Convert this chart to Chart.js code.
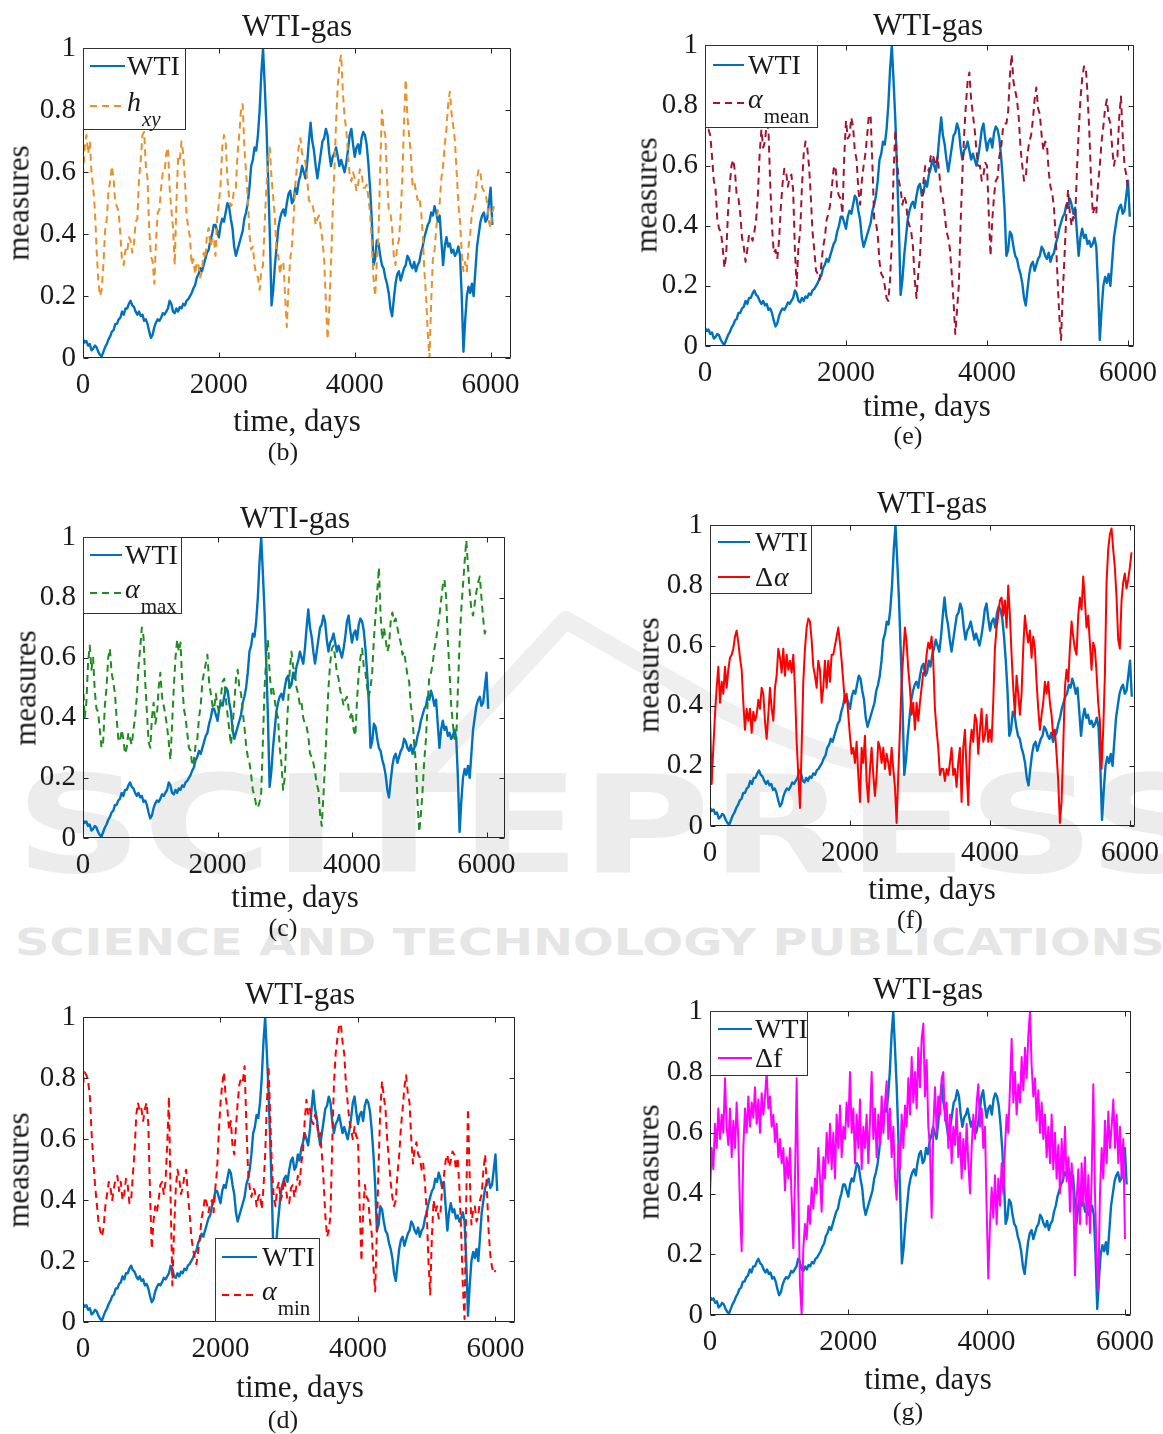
<!DOCTYPE html>
<html>
<head>
<meta charset="utf-8">
<title>WTI-gas measures</title>
<script src="https://cdn.jsdelivr.net/npm/chart.js@4.4.1/dist/chart.umd.min.js"></script>
<style>
  html, body { margin: 0; padding: 0; background: #fff; }
  #page { position: relative; width: 1163px; height: 1434px; overflow: hidden; background: #fff;
          font-family: "Liberation Serif", "Times New Roman", serif; color: #1a1a1a; }
  #page canvas { position: absolute; z-index: 2; }
  .lbl { position: absolute; transform: translate(-50%, -50%); white-space: nowrap; line-height: 1; z-index: 3; }
  .title, .axis { font-size: 31px; }
  .cap { font-size: 26px; }
  .rot { transform: translate(-50%, -50%) rotate(-90deg); }
  svg.wm { position: absolute; left: 0; top: 0; z-index: 1; }
</style>
</head>
<body>
<div id="page">
  <svg class="wm" width="1163" height="1434">
    <g fill="none" stroke="#efefef" stroke-width="18" stroke-linejoin="round" stroke-linecap="round">
      <path d="M 400 800 L 566 620 L 705 700 Q 790 745 860 762"/>
    </g>
    <g font-family="DejaVu Sans" font-weight="bold">
      <text x="15" y="872" font-size="136" fill="#ececec" textLength="1200" lengthAdjust="spacingAndGlyphs">SCITEPRESS</text>
      <text x="15" y="955" font-size="38" fill="#e6e6e6" textLength="1150" lengthAdjust="spacingAndGlyphs">SCIENCE AND TECHNOLOGY PUBLICATIONS</text>
    </g>
  </svg>
</div>
<script>
// ---- axis ticks ----
const xTicks = [0, 2000, 4000, 6000];
const yTicks = [0, 0.2, 0.4, 0.6, 0.8, 1];

// ---- WTI normalised price (one sample every 25 days) ----
const wtiStep = 25;
const wti = [
  0.06, 0.05, 0.055, 0.04, 0.045, 0.025, 0.03, 0.04, 0.035, 0.02,
  0.01, 0.005, 0.02, 0.035, 0.045, 0.06, 0.07, 0.085, 0.09, 0.11,
  0.11, 0.125, 0.13, 0.15, 0.14, 0.16, 0.16, 0.175, 0.185, 0.17,
  0.165, 0.15, 0.14, 0.15, 0.135, 0.14, 0.12, 0.125, 0.11, 0.085,
  0.065, 0.075, 0.10, 0.115, 0.125, 0.12, 0.13, 0.145, 0.14, 0.15,
  0.16, 0.185, 0.175, 0.15, 0.145, 0.16, 0.15, 0.165, 0.16, 0.175,
  0.17, 0.185, 0.19, 0.20, 0.21, 0.225, 0.235, 0.26, 0.27, 0.29,
  0.28, 0.30, 0.32, 0.34, 0.35, 0.38, 0.40, 0.43, 0.43, 0.41,
  0.39, 0.43, 0.45, 0.44, 0.47, 0.50, 0.49, 0.45, 0.42, 0.36,
  0.33, 0.35, 0.37, 0.39, 0.41, 0.45, 0.47, 0.50, 0.55, 0.62,
  0.64, 0.68, 0.67, 0.72, 0.80, 0.92, 1.0, 0.88, 0.75, 0.58,
  0.40, 0.17, 0.22, 0.30, 0.36, 0.42, 0.45, 0.47, 0.48, 0.46,
  0.50, 0.53, 0.54, 0.50, 0.51, 0.55, 0.53, 0.57, 0.59, 0.62,
  0.60, 0.58, 0.63, 0.70, 0.76, 0.70, 0.67, 0.62, 0.58, 0.62,
  0.66, 0.70, 0.71, 0.74, 0.72, 0.66, 0.62, 0.65, 0.66, 0.68,
  0.65, 0.62, 0.64, 0.62, 0.60, 0.63, 0.67, 0.72, 0.74, 0.69,
  0.65, 0.68, 0.69, 0.66, 0.71, 0.73, 0.72, 0.69, 0.63, 0.55,
  0.45, 0.30, 0.32, 0.38, 0.37, 0.33, 0.30, 0.29, 0.26, 0.24,
  0.21, 0.16, 0.135, 0.19, 0.24, 0.27, 0.28, 0.25, 0.27, 0.29,
  0.30, 0.33, 0.32, 0.30, 0.29, 0.31, 0.28, 0.30, 0.31, 0.34,
  0.36, 0.39, 0.41, 0.43, 0.44, 0.47, 0.46, 0.49, 0.47, 0.44,
  0.46, 0.38, 0.30, 0.36, 0.39, 0.36, 0.37, 0.34, 0.35, 0.33,
  0.34, 0.36, 0.33, 0.20, 0.02, 0.12, 0.20, 0.23, 0.21, 0.24,
  0.20, 0.28, 0.36, 0.40, 0.44, 0.46, 0.47, 0.44, 0.45, 0.50,
  0.55, 0.43
];

// ---- h_xy (every 25 days) ----
const hxyStep = 25;
const hxy = [
  0.59, 0.68, 0.72, 0.66, 0.70, 0.60, 0.55, 0.48, 0.35, 0.25,
  0.20, 0.22, 0.30, 0.41, 0.45, 0.54, 0.57, 0.62, 0.58, 0.50,
  0.49, 0.47, 0.40, 0.31, 0.30, 0.35, 0.34, 0.39, 0.38, 0.34,
  0.37, 0.44, 0.45, 0.58, 0.64, 0.72, 0.73, 0.62, 0.58, 0.41,
  0.33, 0.31, 0.24, 0.38, 0.47, 0.48, 0.55, 0.60, 0.60, 0.66,
  0.68, 0.55, 0.48, 0.42, 0.30, 0.50, 0.65, 0.64, 0.70, 0.66,
  0.58, 0.46, 0.42, 0.39, 0.30, 0.32, 0.27, 0.31, 0.30, 0.26,
  0.28, 0.34, 0.32, 0.40, 0.42, 0.36, 0.38, 0.39, 0.33, 0.45,
  0.50, 0.56, 0.68, 0.72, 0.70, 0.58, 0.52, 0.49, 0.50, 0.55,
  0.55, 0.66, 0.72, 0.80, 0.82, 0.68, 0.60, 0.52, 0.40, 0.35,
  0.36, 0.30, 0.27, 0.26, 0.22, 0.28, 0.30, 0.44, 0.55, 0.64,
  0.68, 0.58, 0.52, 0.45, 0.34, 0.33, 0.27, 0.31, 0.31, 0.20,
  0.10, 0.23, 0.32, 0.36, 0.45, 0.56, 0.62, 0.68, 0.71, 0.66,
  0.65, 0.63, 0.58, 0.51, 0.50, 0.50, 0.47, 0.43, 0.45, 0.46,
  0.42, 0.38, 0.32, 0.18, 0.06, 0.16, 0.30, 0.47, 0.60, 0.76,
  0.88, 0.95, 0.98, 0.86, 0.78, 0.74, 0.66, 0.59, 0.57, 0.60,
  0.58, 0.54, 0.56, 0.61, 0.60, 0.55, 0.55, 0.56, 0.52, 0.47,
  0.38, 0.26, 0.20, 0.31, 0.40, 0.62, 0.80, 0.74, 0.72, 0.58,
  0.48, 0.47, 0.42, 0.33, 0.30, 0.36, 0.38, 0.46, 0.58, 0.76,
  0.90, 0.78, 0.72, 0.66, 0.56, 0.57, 0.54, 0.51, 0.52, 0.48,
  0.40, 0.28, 0.20, 0.08, 0.00, 0.18, 0.32, 0.35, 0.42, 0.48,
  0.50, 0.58, 0.62, 0.69, 0.74, 0.82, 0.86, 0.79, 0.75, 0.70,
  0.60, 0.50, 0.44, 0.34, 0.28, 0.31, 0.28, 0.36, 0.40, 0.47,
  0.50, 0.52, 0.58, 0.61, 0.60, 0.55, 0.54, 0.53, 0.50, 0.44,
  0.42, 0.47, 0.49
];

// ---- alpha_mean (every 25 days) ----
const alphaMeanStep = 25;
const alphaMean = [
  0.795, 0.72, 0.72, 0.70, 0.63, 0.55, 0.52, 0.42, 0.39, 0.38,
  0.33, 0.26, 0.30, 0.44, 0.53, 0.60, 0.62, 0.58, 0.50, 0.49,
  0.44, 0.36, 0.33, 0.28, 0.32, 0.37, 0.37, 0.35, 0.38, 0.42,
  0.50, 0.64, 0.72, 0.66, 0.68, 0.74, 0.72, 0.54, 0.40, 0.31,
  0.32, 0.29, 0.35, 0.46, 0.54, 0.59, 0.58, 0.53, 0.56, 0.57,
  0.52, 0.32, 0.20, 0.33, 0.38, 0.53, 0.64, 0.68, 0.66, 0.60,
  0.50, 0.38, 0.32, 0.25, 0.24, 0.22, 0.27, 0.33, 0.36, 0.42,
  0.44, 0.47, 0.53, 0.59, 0.60, 0.52, 0.50, 0.49, 0.44, 0.63,
  0.75, 0.69, 0.70, 0.76, 0.73, 0.65, 0.62, 0.52, 0.47, 0.55,
  0.60, 0.64, 0.70, 0.77, 0.76, 0.60, 0.42, 0.41, 0.37, 0.28,
  0.24, 0.23, 0.20, 0.16, 0.15, 0.22, 0.35, 0.58, 0.72, 0.61,
  0.55, 0.52, 0.47, 0.50, 0.48, 0.42, 0.40, 0.38, 0.33, 0.22,
  0.16, 0.24, 0.30, 0.44, 0.55, 0.60, 0.60, 0.58, 0.63, 0.64,
  0.62, 0.60, 0.63, 0.57, 0.50, 0.49, 0.44, 0.38, 0.36, 0.32,
  0.24, 0.15, 0.04, 0.12, 0.20, 0.40, 0.57, 0.70, 0.80, 0.88,
  0.91, 0.82, 0.77, 0.72, 0.65, 0.60, 0.60, 0.55, 0.57, 0.61,
  0.60, 0.44, 0.30, 0.42, 0.50, 0.55, 0.56, 0.63, 0.66, 0.72,
  0.74, 0.74, 0.78, 0.90, 0.97, 0.88, 0.85, 0.82, 0.76, 0.66,
  0.60, 0.55, 0.56, 0.64, 0.68, 0.70, 0.75, 0.82, 0.86, 0.79,
  0.77, 0.70, 0.65, 0.68, 0.67, 0.58, 0.53, 0.51, 0.46, 0.36,
  0.23, 0.10, 0.02, 0.18, 0.30, 0.44, 0.52, 0.44, 0.40, 0.43,
  0.42, 0.58, 0.71, 0.82, 0.89, 0.93, 0.93, 0.84, 0.72, 0.56,
  0.44, 0.46, 0.44, 0.54, 0.60, 0.68, 0.73, 0.79, 0.82, 0.76,
  0.74, 0.66, 0.60, 0.63, 0.63, 0.76, 0.83, 0.70, 0.60, 0.57,
  0.52
];

// ---- alpha_max (every 25 days) ----
const alphaMaxStep = 25;
const alphaMax = [
  0.52, 0.40, 0.45, 0.58, 0.64, 0.56, 0.60, 0.49, 0.43, 0.42,
  0.36, 0.30, 0.32, 0.44, 0.50, 0.60, 0.63, 0.55, 0.52, 0.48,
  0.40, 0.33, 0.32, 0.36, 0.33, 0.28, 0.30, 0.35, 0.33, 0.31,
  0.36, 0.40, 0.47, 0.57, 0.63, 0.70, 0.67, 0.52, 0.42, 0.32,
  0.30, 0.40, 0.45, 0.38, 0.41, 0.50, 0.55, 0.47, 0.44, 0.41,
  0.37, 0.32, 0.26, 0.38, 0.50, 0.60, 0.66, 0.62, 0.65, 0.52,
  0.43, 0.40, 0.35, 0.30, 0.29, 0.24, 0.26, 0.31, 0.33, 0.40,
  0.44, 0.52, 0.55, 0.58, 0.61, 0.52, 0.48, 0.44, 0.43, 0.48,
  0.44, 0.42, 0.47, 0.52, 0.53, 0.46, 0.41, 0.36, 0.31, 0.37,
  0.45, 0.53, 0.56, 0.50, 0.48, 0.42, 0.37, 0.31, 0.27, 0.25,
  0.21, 0.16, 0.14, 0.11, 0.10, 0.12, 0.15, 0.32, 0.50, 0.60,
  0.66, 0.55, 0.48, 0.50, 0.46, 0.42, 0.40, 0.30, 0.25, 0.16,
  0.20, 0.34, 0.45, 0.56, 0.62, 0.57, 0.55, 0.50, 0.48, 0.44,
  0.45, 0.40, 0.38, 0.37, 0.34, 0.28, 0.27, 0.25, 0.22, 0.18,
  0.16, 0.08, 0.04, 0.14, 0.25, 0.38, 0.50, 0.58, 0.63, 0.64,
  0.60, 0.55, 0.53, 0.49, 0.47, 0.44, 0.46, 0.47, 0.43, 0.40,
  0.42, 0.36, 0.34, 0.46, 0.55, 0.60, 0.63, 0.57, 0.55, 0.50,
  0.47, 0.50, 0.55, 0.66, 0.74, 0.82, 0.90, 0.74, 0.66, 0.70,
  0.66, 0.62, 0.64, 0.72, 0.75, 0.72, 0.73, 0.70, 0.67, 0.65,
  0.61, 0.62, 0.58, 0.54, 0.52, 0.44, 0.40, 0.31, 0.25, 0.12,
  0.02, 0.08, 0.16, 0.26, 0.33, 0.45, 0.54, 0.55, 0.58, 0.63,
  0.66, 0.70, 0.74, 0.79, 0.84, 0.86, 0.80, 0.66, 0.55, 0.44,
  0.38, 0.33, 0.33, 0.50, 0.65, 0.76, 0.84, 0.92, 0.99, 0.90,
  0.82, 0.76, 0.74, 0.78, 0.82, 0.85, 0.87, 0.80, 0.73, 0.68,
  0.70
];

// ---- alpha_min (every 25 days) ----
const alphaMinStep = 25;
const alphaMin = [
  0.78, 0.82, 0.81, 0.79, 0.74, 0.62, 0.53, 0.45, 0.39, 0.33,
  0.30, 0.28, 0.31, 0.38, 0.42, 0.46, 0.44, 0.40, 0.44, 0.47,
  0.48, 0.43, 0.46, 0.40, 0.42, 0.47, 0.45, 0.39, 0.40, 0.48,
  0.56, 0.68, 0.72, 0.69, 0.70, 0.66, 0.70, 0.72, 0.65, 0.42,
  0.24, 0.33, 0.38, 0.36, 0.40, 0.45, 0.46, 0.42, 0.46, 0.58,
  0.74, 0.40, 0.12, 0.30, 0.44, 0.50, 0.47, 0.42, 0.44, 0.48,
  0.50, 0.42, 0.36, 0.28, 0.24, 0.21, 0.19, 0.23, 0.28, 0.34,
  0.37, 0.41, 0.39, 0.36, 0.39, 0.40, 0.36, 0.44, 0.50, 0.62,
  0.72, 0.78, 0.82, 0.74, 0.70, 0.63, 0.66, 0.58, 0.55, 0.64,
  0.72, 0.78, 0.80, 0.79, 0.84, 0.66, 0.50, 0.44, 0.41, 0.44,
  0.43, 0.38, 0.41, 0.42, 0.37, 0.44, 0.55, 0.72, 0.84, 0.66,
  0.50, 0.41, 0.38, 0.44, 0.46, 0.40, 0.42, 0.47, 0.44, 0.40,
  0.39, 0.44, 0.45, 0.41, 0.44, 0.48, 0.45, 0.52, 0.56, 0.66,
  0.73, 0.68, 0.70, 0.66, 0.65, 0.68, 0.66, 0.61, 0.62, 0.55,
  0.46, 0.35, 0.28, 0.30, 0.35, 0.58, 0.78, 0.88, 0.93, 0.97,
  0.98, 0.92, 0.88, 0.78, 0.72, 0.66, 0.63, 0.60, 0.64, 0.61,
  0.60, 0.38, 0.20, 0.36, 0.45, 0.41, 0.40, 0.33, 0.29, 0.18,
  0.10, 0.30, 0.52, 0.70, 0.79, 0.74, 0.70, 0.60, 0.53, 0.46,
  0.41, 0.38, 0.40, 0.49, 0.55, 0.64, 0.70, 0.77, 0.81, 0.75,
  0.72, 0.60, 0.52, 0.57, 0.59, 0.55, 0.54, 0.50, 0.52, 0.45,
  0.36, 0.20, 0.09, 0.28, 0.40, 0.36, 0.38, 0.34, 0.36, 0.44,
  0.48, 0.53, 0.55, 0.51, 0.53, 0.56, 0.55, 0.50, 0.54, 0.44,
  0.30, 0.12, 0.01, 0.40, 0.70, 0.48, 0.32, 0.37, 0.38, 0.33,
  0.35, 0.40, 0.42, 0.50, 0.55, 0.44, 0.30, 0.22, 0.18, 0.16,
  0.17
];

// ---- delta alpha (about every 24 days) ----
const deltaAlphaStep = 23.8;
const deltaAlpha = [
  0.37, 0.14, 0.26, 0.37, 0.46, 0.53, 0.41, 0.48, 0.44, 0.53,
  0.46, 0.52, 0.56, 0.57, 0.59, 0.63, 0.65, 0.61, 0.56, 0.52,
  0.41, 0.32, 0.39, 0.35, 0.39, 0.31, 0.38, 0.35, 0.37, 0.42,
  0.39, 0.46, 0.44, 0.35, 0.29, 0.37, 0.46, 0.39, 0.35, 0.46,
  0.50, 0.59, 0.56, 0.51, 0.59, 0.50, 0.57, 0.52, 0.55, 0.51,
  0.57, 0.46, 0.28, 0.17, 0.06, 0.26, 0.48, 0.59, 0.66, 0.69,
  0.68, 0.62, 0.53, 0.50, 0.46, 0.55, 0.52, 0.41, 0.46, 0.55,
  0.46, 0.55, 0.48, 0.57, 0.57, 0.60, 0.63, 0.66, 0.61, 0.55,
  0.48, 0.41, 0.44, 0.37, 0.30, 0.24, 0.26, 0.21, 0.28, 0.17,
  0.08, 0.26, 0.21, 0.30, 0.15, 0.08, 0.19, 0.26, 0.17, 0.10,
  0.17, 0.28, 0.26, 0.21, 0.26, 0.19, 0.24, 0.21, 0.17, 0.26,
  0.19, 0.13, 0.01, 0.17, 0.32, 0.48, 0.57, 0.66, 0.61, 0.52,
  0.46, 0.37, 0.41, 0.32, 0.41, 0.35, 0.41, 0.46, 0.51, 0.51,
  0.57, 0.61, 0.59, 0.63, 0.55, 0.39, 0.32, 0.26, 0.17, 0.19,
  0.19, 0.15, 0.19, 0.17, 0.21, 0.26, 0.17, 0.19, 0.13, 0.21,
  0.26, 0.08, 0.26, 0.32, 0.19, 0.07, 0.26, 0.32, 0.28, 0.37,
  0.35, 0.24, 0.32, 0.39, 0.28, 0.30, 0.37, 0.28, 0.32, 0.28,
  0.41, 0.59, 0.66, 0.70, 0.75, 0.76, 0.70, 0.75, 0.66, 0.80,
  0.70, 0.57, 0.46, 0.37, 0.50, 0.44, 0.37, 0.44, 0.59, 0.70,
  0.65, 0.61, 0.65, 0.56, 0.63, 0.59, 0.48, 0.39, 0.32, 0.37,
  0.41, 0.48, 0.44, 0.48, 0.41, 0.37, 0.30, 0.32, 0.24, 0.15,
  0.01, 0.08, 0.26, 0.46, 0.52, 0.48, 0.59, 0.68, 0.63, 0.59,
  0.57, 0.70, 0.76, 0.72, 0.83, 0.75, 0.66, 0.70, 0.61, 0.52,
  0.61, 0.59, 0.51, 0.41, 0.35, 0.19, 0.32, 0.50, 0.81, 0.92,
  0.97, 0.99, 0.92, 0.86, 0.76, 0.62, 0.59, 0.75, 0.81, 0.84,
  0.79, 0.82, 0.86, 0.91
];

// ---- delta f (about every 24 days) ----
const deltaFStep = 24.1;
const deltaF = [
  0.40, 0.55, 0.48, 0.63, 0.55, 0.68, 0.58, 0.66, 0.60, 0.78,
  0.62, 0.56, 0.68, 0.52, 0.64, 0.55, 0.70, 0.58, 0.35, 0.21,
  0.55, 0.68, 0.60, 0.72, 0.62, 0.70, 0.65, 0.75, 0.63, 0.71,
  0.60, 0.73, 0.66, 0.72, 0.80, 0.68, 0.72, 0.62, 0.66, 0.57,
  0.63, 0.52, 0.58, 0.50, 0.55, 0.41, 0.52, 0.45, 0.55, 0.38,
  0.22, 0.45, 0.78, 0.40, 0.10, 0.00, 0.22, 0.30, 0.25, 0.36,
  0.30, 0.42, 0.35, 0.45, 0.40, 0.55, 0.45, 0.34, 0.52, 0.45,
  0.60, 0.50, 0.63, 0.48, 0.60, 0.45, 0.66, 0.55, 0.69, 0.52,
  0.62, 0.58, 0.70, 0.62, 0.80, 0.60, 0.68, 0.50, 0.66, 0.55,
  0.71, 0.48, 0.62, 0.55, 0.66, 0.50, 0.64, 0.80, 0.58, 0.68,
  0.52, 0.66, 0.56, 0.72, 0.60, 0.70, 0.77, 0.58, 0.68, 0.52,
  0.62, 0.45, 0.38, 0.56, 0.48, 0.66, 0.55, 0.69, 0.62, 0.78,
  0.66, 0.85, 0.70, 0.80, 0.68, 0.88, 0.75, 0.91, 0.96, 0.72,
  0.84, 0.62, 0.55, 0.32, 0.62, 0.75, 0.60, 0.72, 0.66, 0.78,
  0.80, 0.64, 0.70, 0.55, 0.66, 0.50, 0.62, 0.56, 0.68, 0.52,
  0.60, 0.45, 0.58, 0.48, 0.63, 0.50, 0.40, 0.55, 0.66, 0.58,
  0.70, 0.76, 0.62, 0.68, 0.55, 0.62, 0.35, 0.12, 0.30, 0.42,
  0.32, 0.46, 0.30, 0.45, 0.36, 0.50, 0.40, 0.55, 0.66, 0.60,
  0.75, 0.91, 0.70, 0.80, 0.66, 0.76, 0.70, 0.85, 0.74, 0.88,
  0.78, 0.92, 1.00, 0.82, 0.72, 0.78, 0.64, 0.74, 0.60, 0.70,
  0.58, 0.66, 0.52, 0.62, 0.50, 0.66, 0.48, 0.60, 0.45, 0.56,
  0.40, 0.58, 0.45, 0.62, 0.44, 0.52, 0.34, 0.50, 0.40, 0.13,
  0.38, 0.48, 0.30, 0.50, 0.36, 0.52, 0.30, 0.46, 0.27, 0.45,
  0.76, 0.40, 0.20, 0.08, 0.40, 0.55, 0.45, 0.64, 0.50, 0.67,
  0.55, 0.62, 0.71, 0.55, 0.66, 0.50, 0.62, 0.45, 0.58, 0.25
];

// ---- drawing ----
const FONT = '"Liberation Serif", "Times New Roman", serif';
const INK = '#262626';
const WTI_COLOR = '#0072BD';
const Y_AXIS_W = 80, TOP_PAD = 24, RIGHT_PAD = 40, X_AXIS_H = 52;

function toPoints(values, step) {
  return values.map((v, i) => ({ x: i * step, y: v }));
}

// Axes box with inward tick marks on all four sides
const frameBox = {
  id: 'frameBox',
  afterDatasetsDraw(chart) {
    const { ctx, chartArea: a, scales } = chart;
    ctx.save();
    ctx.strokeStyle = INK;
    ctx.lineWidth = 1;
    ctx.setLineDash([]);
    const L = Math.round(a.left) + 0.5, R = Math.round(a.right) - 0.5;
    const T = Math.round(a.top) + 0.5, B = Math.round(a.bottom) - 0.5;
    ctx.beginPath();
    ctx.rect(L, T, R - L, B - T);
    const tl = 5;
    scales.x.ticks.forEach(t => {
      const px = Math.round(scales.x.getPixelForValue(t.value)) + 0.5;
      ctx.moveTo(px, B); ctx.lineTo(px, B - tl);
      ctx.moveTo(px, T); ctx.lineTo(px, T + tl);
    });
    scales.y.ticks.forEach(t => {
      const py = Math.round(scales.y.getPixelForValue(t.value)) + 0.5;
      ctx.moveTo(L, py); ctx.lineTo(L + tl, py);
      ctx.moveTo(R, py); ctx.lineTo(R - tl, py);
    });
    ctx.stroke();
    ctx.restore();
  }
};

// Boxed legend with line samples and sub-scripted labels
const boxLegend = {
  id: 'boxLegend',
  afterDraw(chart, args, opts) {
    const { ctx, chartArea: a } = chart;
    const x0 = Math.round(a.left + opts.x), y0 = Math.round(a.top + opts.y);
    ctx.save();
    ctx.fillStyle = '#ffffff';
    ctx.fillRect(x0, y0, opts.w, opts.h);
    ctx.strokeStyle = '#333333';
    ctx.lineWidth = 1;
    ctx.setLineDash([]);
    ctx.strokeRect(x0 + 0.5, y0 + 0.5, opts.w - 1, opts.h - 1);
    chart.data.datasets.forEach((ds, i) => {
      const ry = y0 + opts.rows[i];
      ctx.strokeStyle = ds.borderColor;
      ctx.lineWidth = 2;
      ctx.setLineDash(ds.borderDash || []);
      ctx.beginPath();
      ctx.moveTo(x0 + opts.s[0], ry);
      ctx.lineTo(x0 + opts.s[1], ry);
      ctx.stroke();
      ctx.setLineDash([]);
      ctx.fillStyle = '#1a1a1a';
      ctx.textBaseline = 'alphabetic';
      const runs = ds.runs;
      const hasSub = runs.some(r => r.sub);
      let x = x0 + opts.tx;
      runs.forEach(r => {
        const size = r.sub ? 21 : 28;
        ctx.font = (r.it ? 'italic ' : '') + size + 'px ' + FONT;
        const by = r.sub ? ry + 20 : ry + (hasSub ? 5 : 9);
        ctx.fillText(r.t, x, by);
        x += ctx.measureText(r.t).width + (r.sub ? 0 : 1);
      });
    });
    ctx.restore();
  }
};

const panels = [
  { cap: '(b)', plot: [83, 48, 511, 358], xMax: 6300,
    values: hxy, step: hxyStep, color: '#E8912A', dash: [7, 5],
    runs: [{ t: 'h', it: 1 }, { t: 'xy', it: 1, sub: 1 }],
    legend: { x: 0, y: 0, w: 103, h: 82, rows: [18, 58], s: [7, 42], tx: 44 },
    title: [297, 25], ylab: [18, 203], xlab: [297, 420], capPos: [283, 452] },
  { cap: '(e)', plot: [705, 45, 1134, 346], xMax: 6085,
    values: alphaMean, step: alphaMeanStep, color: '#A2142F', dash: [7, 5],
    runs: [{ t: 'α', it: 1 }, { t: 'mean', sub: 1 }],
    legend: { x: 0, y: 0, w: 113, h: 83, rows: [20, 58], s: [8, 39], tx: 43 },
    title: [928, 24], ylab: [646, 195], xlab: [927, 405], capPos: [908, 436] },
  { cap: '(c)', plot: [83, 537, 505, 838], xMax: 6275,
    values: alphaMax, step: alphaMaxStep, color: '#1E8C1E', dash: [7, 5],
    runs: [{ t: 'α', it: 1 }, { t: 'max', sub: 1 }],
    legend: { x: 0, y: 0, w: 99, h: 77, rows: [18, 56], s: [7, 39], tx: 42 },
    title: [295, 517], ylab: [25, 688], xlab: [295, 896], capPos: [283, 928] },
  { cap: '(f)', plot: [710, 525, 1135, 826], xMax: 6071,
    values: deltaAlpha, step: deltaAlphaStep, color: '#FF0000', dash: [],
    runs: [{ t: 'Δ' }, { t: 'α', it: 1 }],
    legend: { x: 0, y: 0, w: 102, h: 69, rows: [17, 52], s: [8, 40], tx: 45 },
    title: [932, 502], ylab: [648, 675], xlab: [932, 888], capPos: [910, 920] },
  { cap: '(d)', plot: [83, 1017, 515, 1322], xMax: 6284,
    values: alphaMin, step: alphaMinStep, color: '#FF0000', dash: [7, 5],
    runs: [{ t: 'α', it: 1 }, { t: 'min', sub: 1 }],
    legend: { x: 132, y: 221, w: 105, h: 84, rows: [19, 57], s: [7, 42], tx: 47 },
    title: [300, 993], ylab: [18, 1170], xlab: [300, 1386], capPos: [283, 1420] },
  { cap: '(g)', plot: [710, 1011, 1131, 1315], xMax: 6088,
    values: deltaF, step: deltaFStep, color: '#FF00FF', dash: [],
    runs: [{ t: 'Δf' }],
    legend: { x: 0, y: 0, w: 98, h: 65, rows: [18, 47], s: [8, 42], tx: 45 },
    title: [928, 988], ylab: [648, 1162], xlab: [928, 1378], capPos: [908, 1412] }
];

const page = document.getElementById('page');

function addLabel(text, pos, cls) {
  const d = document.createElement('div');
  d.className = 'lbl ' + cls;
  d.textContent = text;
  d.style.left = pos[0] + 'px';
  d.style.top = pos[1] + 'px';
  page.appendChild(d);
}

panels.forEach(p => {
  const [L, T, R, B] = p.plot;
  const cv = document.createElement('canvas');
  const w = (R - L) + Y_AXIS_W + RIGHT_PAD;
  const h = (B - T) + TOP_PAD + X_AXIS_H;
  cv.width = w; cv.height = h;
  cv.style.width = w + 'px'; cv.style.height = h + 'px';
  cv.style.left = (L - Y_AXIS_W) + 'px';
  cv.style.top = (T - TOP_PAD) + 'px';
  page.appendChild(cv);

  new Chart(cv, {
    type: 'line',
    data: {
      datasets: [
        { label: 'WTI', data: toPoints(wti, wtiStep), borderColor: WTI_COLOR, borderWidth: 2.4,
          order: 1, runs: [{ t: 'WTI' }] },
        { label: p.runs.map(r => r.t).join(''), data: toPoints(p.values, p.step), borderColor: p.color,
          borderWidth: 2, borderDash: p.dash, order: 0, runs: p.runs }
      ]
    },
    options: {
      responsive: false,
      animation: false,
      devicePixelRatio: 1,
      elements: { point: { radius: 0 }, line: { tension: 0, borderJoinStyle: 'round' } },
      layout: { padding: { left: 0, top: TOP_PAD, right: RIGHT_PAD, bottom: 0 } },
      plugins: { legend: { display: false }, tooltip: { enabled: false }, boxLegend: p.legend },
      scales: {
        x: {
          type: 'linear', min: 0, max: p.xMax,
          grid: { display: false, drawTicks: false }, border: { display: false },
          ticks: { font: { family: FONT, size: 29 }, color: '#1a1a1a', padding: 10, maxRotation: 0,
                   callback: v => String(v) },
          afterBuildTicks: s => { s.ticks = xTicks.map(v => ({ value: v })); },
          afterFit: s => { s.height = X_AXIS_H; }
        },
        y: {
          type: 'linear', min: 0, max: 1,
          grid: { display: false, drawTicks: false }, border: { display: false },
          ticks: { font: { family: FONT, size: 29 }, color: '#1a1a1a', padding: 7,
                   callback: v => String(v) },
          afterBuildTicks: s => { s.ticks = yTicks.map(v => ({ value: v })); },
          afterFit: s => { s.width = Y_AXIS_W; }
        }
      }
    },
    plugins: [frameBox, boxLegend]
  });

  addLabel('WTI-gas', p.title, 'title');
  addLabel('measures', p.ylab, 'axis rot');
  addLabel('time, days', p.xlab, 'axis');
  addLabel(p.cap, p.capPos, 'cap');
});
</script>
</body>
</html>
